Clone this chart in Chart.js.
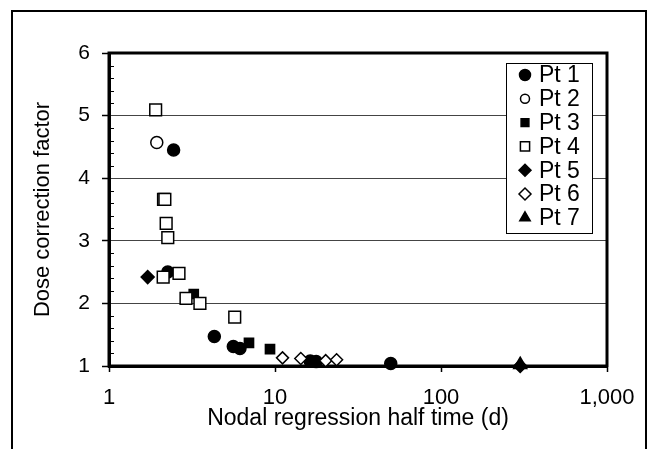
<!DOCTYPE html>
<html>
<head>
<meta charset="utf-8">
<script src="https://cdn.jsdelivr.net/npm/chart.js@4.4.0/dist/chart.umd.min.js"></script>
<style>
  html, body { margin: 0; padding: 0; background: #fff; overflow: hidden; }
  #frame { position: absolute; left: 11px; top: 10px; width: 632px; height: 460px; border: 2px solid #000; }
  #c { position: absolute; left: 0; top: 0; }
</style>
</head>
<body>
<div id="frame"></div>
<canvas id="c" width="652" height="449"></canvas>
<script>
// values: x = half time (d), y = correction factor
const pt1X = [2.45, 2.26, 4.31, 5.61, 6.15, 16.3, 17.7, 49.8];
const pt1Y = [4.45, 2.50, 1.47, 1.31, 1.28, 1.08, 1.07, 1.04];
const pt2X = [1.94];
const pt2Y = [4.57];
const pt3X = [3.24, 6.97, 9.33];
const pt3Y = [2.15, 1.37, 1.27];
const pt4X = [1.91, 2.13, 2.17, 2.21, 2.26, 2.12, 2.64, 2.91, 3.53, 5.72];
const pt4Y = [5.09, 3.66, 3.66, 3.28, 3.05, 2.42, 2.48, 2.08, 2.00, 1.78];
const pt5X = [1.71, 300];
const pt5Y = [2.42, 1.00];
const pt6X = [11.1, 14.3, 20.2, 23.5];
const pt6Y = [1.13, 1.12, 1.085, 1.10];
const pt7X = [300];
const pt7Y = [1.02];

const xTicks = [1, 10, 100, 1000];
const yTicks = [1, 2, 3, 4, 5, 6];

const FONT = '"Liberation Sans", Arial, sans-serif';
Chart.defaults.color = '#000';
Chart.defaults.font.family = FONT;

const pts = (xs, ys) => xs.map((x, i) => ({ x, y: ys[i] }));

function ds(label, xs, ys, style, fill, r, lr, order) {
    return {
        label, data: pts(xs, ys), pointStyle: style,
        backgroundColor: fill, borderColor: '#000', borderWidth: 1.5,
        pointRadius: r, pointHoverRadius: r, legendRadius: lr, order, clip: false
    };
}

// plot frame + inside minor ticks
const frameTicks = {
    id: 'frameTicks',
    beforeDatasetsDraw(chart) {
        const { ctx, chartArea: a, scales: { x, y } } = chart;
        ctx.save();
        ctx.strokeStyle = '#000';
        ctx.lineWidth = 1;
        ctx.beginPath();
        x.ticks.forEach(t => {
            if (xTicks.includes(t.value)) return;
            const px = Math.round(x.getPixelForValue(t.value)) + 0.5;
            ctx.moveTo(px, a.bottom); ctx.lineTo(px, a.bottom - 5);
        });
        for (let k = 1; k < 25; k++) {
            if (k % 5 === 0) continue;
            const py = Math.round(y.getPixelForValue(1 + k * 0.2)) + 0.5;
            ctx.moveTo(a.left, py); ctx.lineTo(a.left + 5, py);
        }
        ctx.stroke();
        ctx.lineWidth = 3;
        ctx.strokeRect(a.left, a.top, a.right - a.left, a.bottom - a.top);
        ctx.restore();
    }
};

const legendBox = {
    id: 'legendBox',
    afterDraw(chart) {
        const ctx = chart.ctx;
        const x0 = 506, y0 = 63, w = 86, h = 170;
        ctx.save();
        ctx.fillStyle = '#fff';
        ctx.fillRect(x0, y0, w, h);
        ctx.strokeStyle = '#000';
        ctx.lineWidth = 1;
        ctx.strokeRect(x0 + 0.5, y0 + 0.5, w, h);
        ctx.font = '23px ' + FONT;
        ctx.textBaseline = 'middle';
        chart.data.datasets.forEach((d, i) => {
            const cy = y0 + 12 + i * 23.8;
            ctx.fillStyle = d.backgroundColor;
            ctx.strokeStyle = '#000';
            ctx.lineWidth = 1.5;
            Chart.helpers.drawPoint(ctx, { pointStyle: d.pointStyle, radius: d.legendRadius, borderWidth: 1.5, rotation: 0 }, 525, cy);
            ctx.fillStyle = '#000';
            ctx.fillText(d.label, 539, cy + 1);
        });
        ctx.restore();
    }
};

new Chart(document.getElementById('c'), {
    type: 'scatter',
    data: {
        datasets: [
            ds('Pt 1', pt1X, pt1Y, 'circle', '#000', 6, 5.5, 5),
            ds('Pt 2', pt2X, pt2Y, 'circle', '#fff', 6, 4.5, 3),
            ds('Pt 3', pt3X, pt3Y, 'rect', '#000', 6.5, 5.5, 5),
            ds('Pt 4', pt4X, pt4Y, 'rect', '#fff', 8.3, 6.5, 1),
            ds('Pt 5', pt5X, pt5Y, 'rectRot', '#000', 6.5, 6, 6),
            ds('Pt 6', pt6X, pt6Y, 'rectRot', '#fff', 6, 6, 1),
            ds('Pt 7', pt7X, pt7Y, 'triangle', '#000', 7.5, 6, 2)
        ]
    },
    options: {
        responsive: false,
        animation: false,
        events: [],
        layout: { padding: { left: 28, top: 53, right: 45, bottom: 0 } },
        plugins: { legend: { display: false }, tooltip: { enabled: false } },
        scales: {
            x: {
                type: 'logarithmic', min: 1, max: 1000,
                afterFit: s => { s.height = 83; },
                border: { display: true, width: 3, color: '#000' },
                grid: {
                    drawOnChartArea: false, tickLength: 6, tickWidth: 1.5,
                    tickColor: c => xTicks.includes(c.tick && c.tick.value) ? '#000' : 'rgba(0,0,0,0)'
                },
                ticks: {
                    autoSkip: false, maxRotation: 0, padding: 13,
                    font: { size: 22 },
                    callback: v => xTicks.includes(v) ? v.toLocaleString('en-US') : null
                },
                title: { display: true, text: 'Nodal regression half time (d)', font: { size: 23 }, padding: { top: 0, bottom: 17 } }
            },
            y: {
                min: 1, max: 6,
                afterFit: s => { s.width = 81; },
                border: { display: true, width: 3, color: '#000' },
                grid: {
                    tickLength: 7, tickWidth: 1.5, tickColor: '#000', lineWidth: 1,
                    color: c => (c.tick && (c.tick.value === 1 || c.tick.value === 6)) ? 'rgba(0,0,0,0)' : '#444'
                },
                ticks: {
                    stepSize: 1, padding: 12, font: { size: 21 },
                    callback: v => yTicks.includes(v) ? String(v) : null
                },
                title: { display: true, text: 'Dose correction factor', font: { size: 22 }, padding: { top: 2, bottom: 0 } }
            }
        }
    },
    plugins: [frameTicks, legendBox]
});
</script>
</body>
</html>
